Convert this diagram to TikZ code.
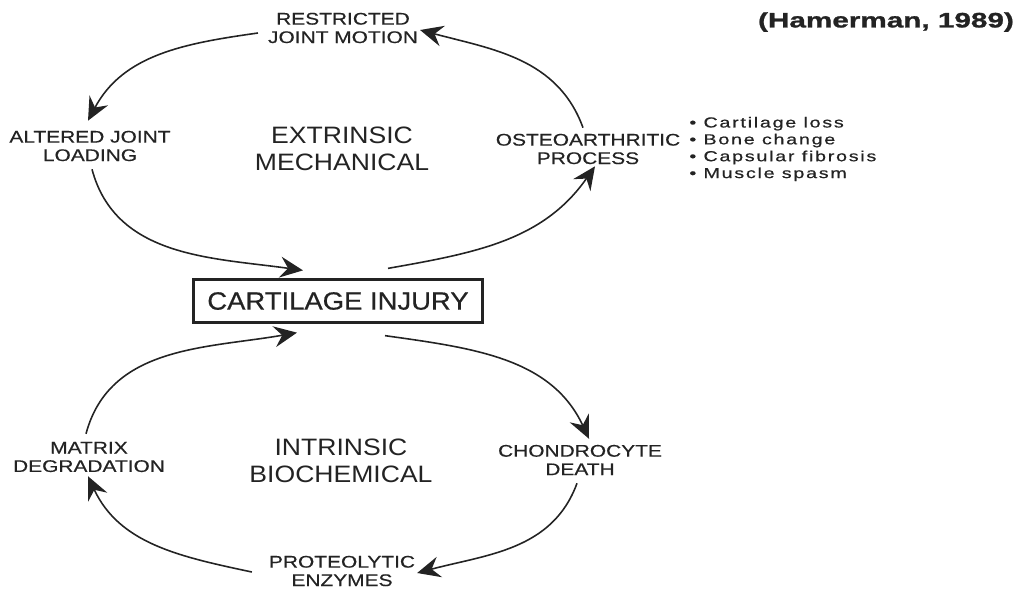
\documentclass[tikz,border=0pt]{standalone}
\usepackage{fontspec}
\setmainfont{Liberation Sans}
\newfontfamily\labfont[FakeStretch=1.24,FakeBold=0.4]{Liberation Sans}
\newfontfamily\bigfont[FakeStretch=1.12]{Liberation Sans}
\newfontfamily\boxfont[FakeStretch=1.1,FakeBold=0.6]{Liberation Sans}
\newfontfamily\notefont[FakeStretch=1.35,LetterSpace=12,FakeBold=0.6]{Liberation Sans}
\newfontfamily\citefont[FakeStretch=1.42,FakeBold=1.2]{Liberation Sans}
\usetikzlibrary{arrows.meta, positioning, calc}
\definecolor{inkgray}{RGB}{35,35,35}

\begin{document}
\begin{tikzpicture}[
  x=0.02cm, y=-0.02cm,
  steplabel/.style={align=center, inner sep=1pt, text=inkgray,
    font=\labfont\fontsize{9.6}{10.5}\selectfont},
  looplabel/.style={align=center, inner sep=1pt, text=inkgray,
    font=\bigfont\fontsize{13.5}{15.3}\selectfont},
  injurybox/.style={draw=inkgray, line width=1.3pt, rectangle,
    minimum width=5.78cm, minimum height=0.86cm, inner sep=2pt,
    text=inkgray, font=\boxfont\fontsize{14.2}{16}\selectfont},
  notelist/.style={align=left, inner sep=1pt, text=inkgray,
    font=\notefont\fontsize{8.3}{9.6}\selectfont},
  cyclearrow/.style={draw=inkgray, line width=0.9pt,
    -{Stealth[length=0.46cm, width=0.42cm, inset=0.16cm]}}
]
\useasboundingbox (0,0) rectangle (1034,593);

\node[steplabel] (motion) at (343,28) {RESTRICTED\\JOINT MOTION};
\node[steplabel] (loading) at (90,146) {ALTERED JOINT\\LOADING};
\node[looplabel] (extrinsic) at (342,149) {EXTRINSIC\\MECHANICAL};
\node[steplabel] (osteo) at (588,149) {OSTEOARTHRITIC\\PROCESS};
\node[notelist, right=0.1cm of osteo] (changes)
  {\textbullet\ Cartilage loss\\ \textbullet\ Bone change\\
   \textbullet\ Capsular fibrosis\\ \textbullet\ Muscle spasm};

\node[injurybox] (injury) at (338,301) {CARTILAGE INJURY};

\node[steplabel] (matrix) at (89,457) {MATRIX\\DEGRADATION};
\node[looplabel] (intrinsic) at (341,461) {INTRINSIC\\BIOCHEMICAL};
\node[steplabel] (chondro) at (580,460) {CHONDROCYTE\\DEATH};
\node[steplabel] (enzymes) at (342,571) {PROTEOLYTIC\\ENZYMES};

\node[text=inkgray, inner sep=1pt, font=\citefont\bfseries\fontsize{11.9}{13}\selectfont]
  (source) at (886,22) {(Hamerman, 1989)};

\draw[cyclearrow] ($(motion.west)+(-8,5)$) to[out=188, in=62] ($(loading.north)+(-2,-8)$);
\draw[cyclearrow] ($(loading.south)+(2,6)$) to[out=-75, in=172] ($(injury.north)+(-35,-8)$);
\draw[cyclearrow] ($(injury.north)+(50,-10)$) to[out=10, in=235] ($(osteo.south)+(7,0)$);
\draw[cyclearrow] ($(osteo.north)+(-5,-4)$) to[out=110, in=-15] ($(motion.east)+(0,2)$);

\draw[cyclearrow] ($(matrix.north)+(-3,-6)$) to[out=75, in=190] ($(injury.south)+(-41,9)$);
\draw[cyclearrow] ($(injury.south)+(47,12)$) to[out=-8, in=115] ($(chondro.north)+(9,-4)$);
\draw[cyclearrow] ($(chondro.south)+(-3,6)$) to[out=-110, in=15] ($(enzymes.east)+(0,2)$);
\draw[cyclearrow] ($(enzymes.west)+(-15,1)$) to[out=168, in=-65] ($(matrix.south)+(-1,2)$);
\end{tikzpicture}
\end{document}
